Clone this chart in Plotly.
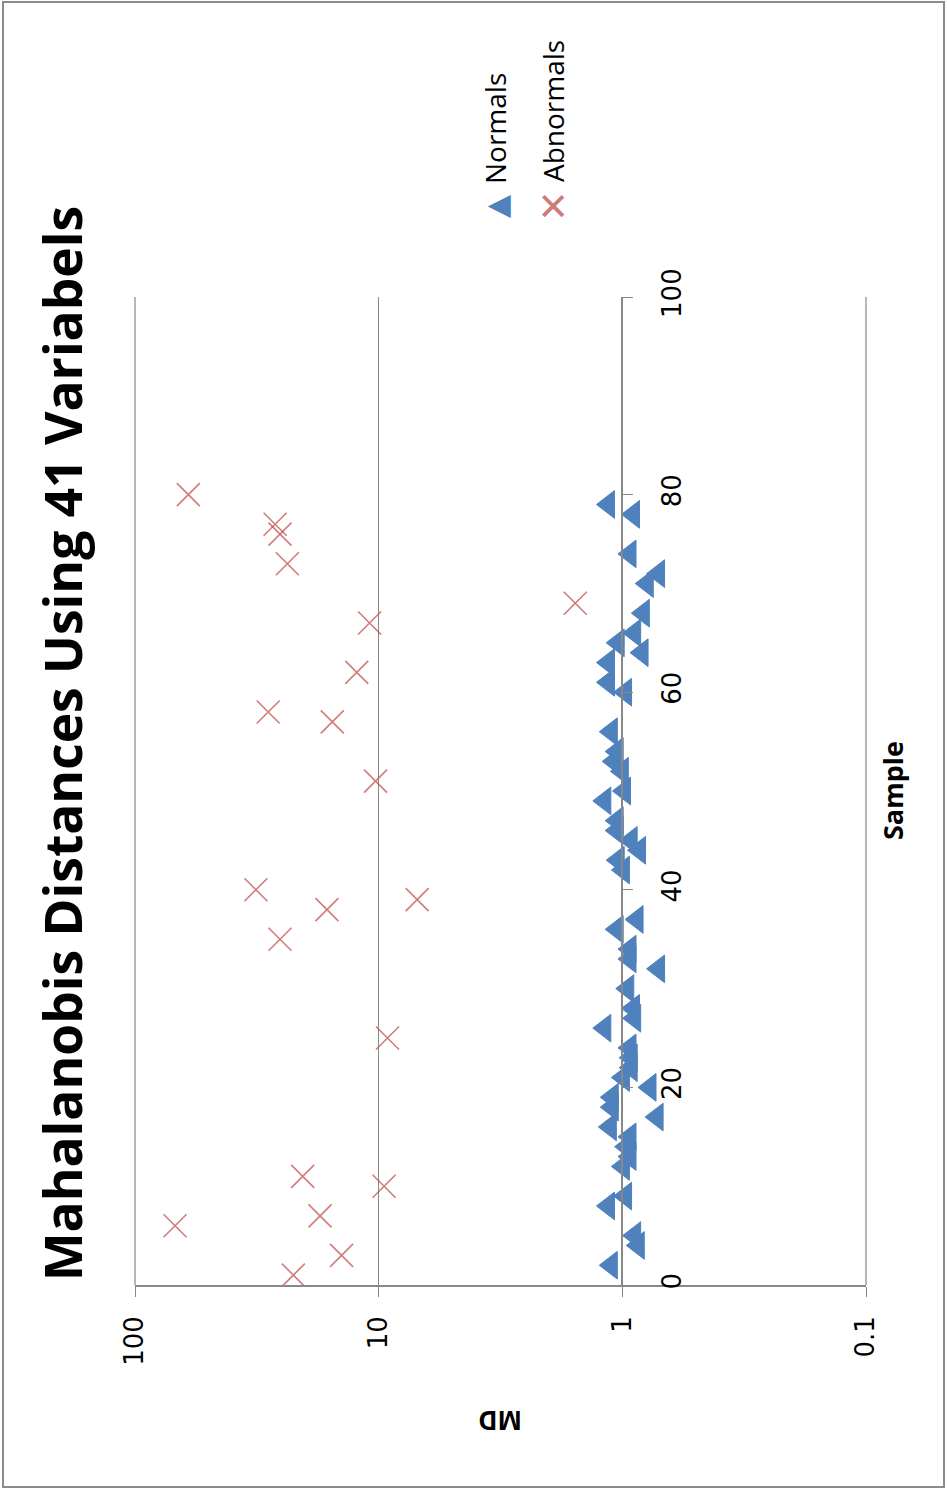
import plotly.graph_objects as go

# Mahalanobis distance per sample, split by group
normal_sample = [2, 4, 5, 8, 9, 12, 13, 14, 15, 16, 17, 18, 19, 20, 21, 22, 23, 24,
                 26, 27, 28, 30, 32, 33, 34, 36, 37, 42, 43, 44, 45, 46, 47, 49, 50,
                 52, 53, 54, 56, 60, 61, 63, 64, 65, 66, 68, 71, 72, 74, 78, 79]
normal_md = [1.11, 0.86, 0.89, 1.14, 0.97, 0.99, 0.93, 0.96, 0.93, 1.12, 0.72, 1.10,
             1.10, 0.77, 0.99, 0.92, 0.92, 0.93, 1.18, 0.89, 0.90, 0.95, 0.71, 0.93,
             0.93, 1.05, 0.87, 0.99, 1.04, 0.85, 0.92, 1.05, 1.05, 1.18, 0.98, 1.00,
             1.08, 1.05, 1.11, 0.97, 1.14, 1.14, 0.83, 1.04, 0.89, 0.82, 0.79, 0.71,
             0.93, 0.90, 1.14]

abnormal_sample = [1, 3, 6, 7, 10, 11, 25, 35, 38, 39, 40, 51, 57, 58, 62, 67, 69,
                   73, 76, 77, 80]
abnormal_md = [22.4, 14.2, 68.5, 17.4, 9.5, 20.5, 9.2, 25.4, 16.3, 6.95, 31.9, 10.3,
               15.5, 28.4, 12.3, 10.9, 1.56, 23.7, 25.4, 26.6, 60.4]

md_ticks = [0.1, 1, 10, 100]
md_tick_text = ["0.1", "1", "10", "100"]
sample_ticks = [0, 20, 40, 60, 80, 100]

TITLE = "Mahalanobis Distances Using 41 Variabels"
FONT = "Open Sans"
TICK_FONT = "DejaVu Sans"
GRID = "#888888"
BLUE = "#4F81BD"
RED = "rgba(192,80,77,0.75)"

W, H = 947, 1490
L, R, T, B = 135, 81, 297, 205
PW, PH = W - L - R, H - T - B


def px(x):
    return (x - L) / PW


def py(y):
    return (H - B - y) / PH


fig = go.Figure()

fig.add_trace(go.Scatter(
    x=normal_md, y=normal_sample, mode="markers", name="Normals",
    marker=dict(symbol="triangle-left", size=24, color=BLUE,
                line=dict(color=BLUE, width=1)),
    cliponaxis=False,
))
fig.add_trace(go.Scatter(
    x=abnormal_md, y=abnormal_sample, mode="markers", name="Abnormals",
    marker=dict(symbol="x-thin-open", size=23, color=RED,
                line=dict(color=RED, width=1.6)),
    cliponaxis=False,
))

annotations = [
    dict(text="<b>" + TITLE + "</b>", x=px(62), y=py(744), textangle=-90,
         font=dict(family=FONT, size=51.5, color="black")),
    dict(text="Normals", x=px(495), y=py(129), textangle=-90,
         font=dict(family=FONT, size=28, color="black")),
    dict(text="Abnormals", x=px(553), y=py(111), textangle=-90,
         font=dict(family=FONT, size=28, color="black")),
    dict(text="▲", x=px(497), y=py(207), textangle=-90,
         font=dict(family="DejaVu Sans", size=30, color=BLUE)),
    dict(text="✕", x=px(554), y=py(206), textangle=-90,
         font=dict(family="DejaVu Sans", size=38, color=RED)),
    dict(text="<b>Sample</b>", x=px(892), y=py(791), textangle=-90,
         font=dict(family=FONT, size=27, color="black")),
    dict(text="<b>MD</b>", x=px(500), y=py(1421), textangle=180,
         font=dict(family=FONT, size=26, color="black")),
]
for a in annotations:
    a.update(xref="paper", yref="paper", showarrow=False,
             xanchor="center", yanchor="middle")

# gridlines on the two outer decades and the chart frame
edge_lines = [dict(type="line", xref="paper", yref="paper", x0=v, x1=v, y0=0, y1=1,
                   line=dict(color=GRID, width=1.2), layer="below") for v in (0, 1)]
frame = dict(type="rect", xref="paper", yref="paper",
             x0=px(3), x1=px(944), y0=py(1487), y1=py(2),
             line=dict(color="#8C8C8C", width=2), layer="below")

fig.update_layout(
    width=W, height=H,
    margin=dict(l=L, r=R, t=T, b=B),
    paper_bgcolor="white", plot_bgcolor="white",
    showlegend=False,
    annotations=annotations,
    shapes=edge_lines + [frame],
    xaxis=dict(
        type="log", range=[2, -1], tickvals=md_ticks, ticktext=md_tick_text,
        tickangle=-90, ticks="outside", ticklen=10, tickcolor=GRID,
        showline=True, linecolor=GRID, linewidth=1.5,
        showgrid=True, gridcolor=GRID, gridwidth=1.2, zeroline=False,
        tickfont=dict(family=TICK_FONT, size=26, color="black"),
        ticklabelstandoff=9,
    ),
    yaxis=dict(
        range=[0, 100], tickvals=sample_ticks, tickangle=-90,
        anchor="free", position=2 / 3, side="right",
        ticks="outside", ticklen=10, tickcolor=GRID,
        showline=True, linecolor=GRID, linewidth=1.5,
        showgrid=False, zeroline=False,
        tickfont=dict(family=TICK_FONT, size=26, color="black"),
        ticklabelstandoff=17,
    ),
)

fig.write_html("out.html")
